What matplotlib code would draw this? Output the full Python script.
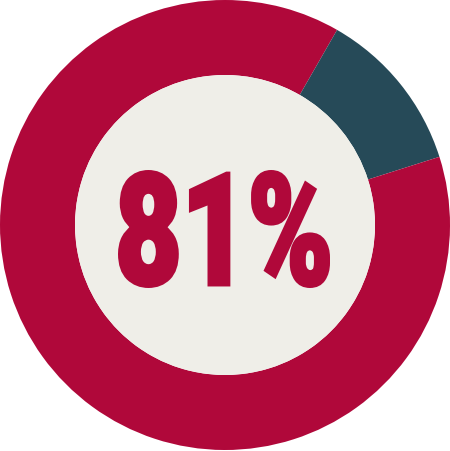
import matplotlib
matplotlib.use('Agg')
import matplotlib.pyplot as plt
from matplotlib.patches import Circle
from matplotlib.textpath import TextPath
from matplotlib.font_manager import FontProperties
from matplotlib.patheffects import AbstractPathEffect
from matplotlib.transforms import Affine2D

# slices clockwise from 12 o'clock
shares = [8.3, 11.8, 79.9]
slice_colors = ['#B0083A', '#264A58', '#B0083A']
label = '81%'

crimson = '#B0083A'
beige = '#EFEEE8'


class Squeeze(AbstractPathEffect):
    # narrow glyphs horizontally around x0 (display px) and fatten them
    def __init__(self, x0, sx, lw):
        super().__init__()
        self.x0 = x0
        self.sx = sx
        self.lw = lw

    def draw_path(self, renderer, gc, tpath, affine, rgbFace=None):
        t = affine + Affine2D().translate(-self.x0, 0).scale(self.sx, 1).translate(self.x0, 0)
        gc0 = renderer.new_gc()
        gc0.copy_properties(gc)
        gc0.set_foreground(rgbFace)
        gc0.set_linewidth(self.lw * 72 / 100)
        gc0.set_joinstyle('miter')
        renderer.draw_path(gc0, tpath, t, rgbFace)
        gc0.restore()


W, H = 450, 451
fig = plt.figure(figsize=(W / 100, H / 100), dpi=100)
fig.patch.set_facecolor('white')
ax = fig.add_axes([0, 0, 1, 1])

cx, cy = 225, H - 225
ax.pie(shares, colors=slice_colors, startangle=90, counterclock=False,
       center=(cx, cy), radius=225,
       wedgeprops=dict(width=75, edgecolor='none', linewidth=0))
ax.add_patch(Circle((cx, cy), 150, facecolor=beige, edgecolor='none'))

# fit the label into the box seen in the reference
lw = 4
fp = FontProperties(family='Roboto', weight='black')
tp = TextPath((0, 0), label, size=100, prop=fp)
ext = tp.get_extents()
left, right, top, bottom = 118 + lw / 2, 330 - lw / 2, 170 + lw / 2, 288 - lw / 2
k = (bottom - top) / ext.height
fs_px = 100 * k
sx = (right - left) / (ext.width * k)
x0 = left - sx * ext.x0 * k
base = (H - bottom) - ext.y0 * k

ax.text(x0, base, label, fontproperties=fp, fontsize=fs_px * 72 / 100,
        color=crimson, ha='left', va='baseline',
        path_effects=[Squeeze(x0, sx, lw)])

ax.set_xlim(0, W)
ax.set_ylim(0, H)
ax.set_aspect('equal')
ax.axis('off')

fig.savefig('out.png', dpi=100, facecolor='white')
